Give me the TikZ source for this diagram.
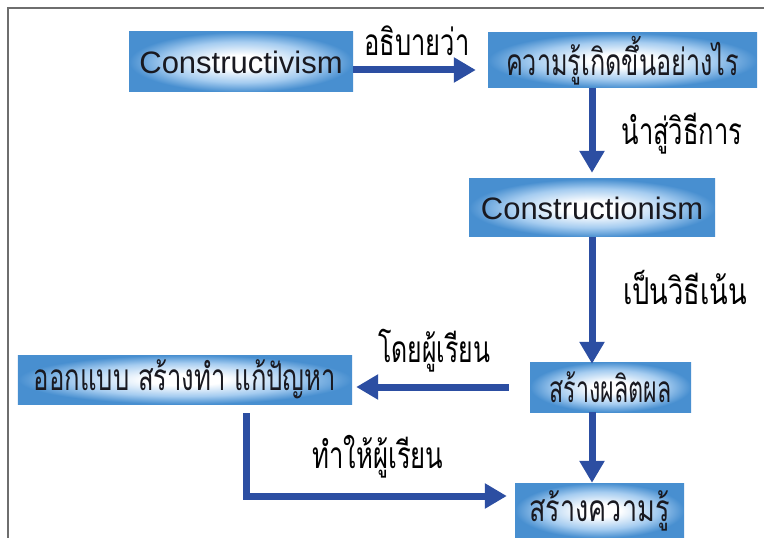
\documentclass[tikz,border=0pt]{standalone}
\usepackage{fontspec}
\usepackage{graphicx}
\setmainfont{Liberation Sans}
\newfontfamily\thaifont[Script=Thai]{Loma}
\usetikzlibrary{arrows.meta}
\definecolor{boxblue}{RGB}{72,143,208}
\definecolor{boxmid}{RGB}{165,204,240}
\definecolor{arrowblue}{RGB}{44,78,162}
\definecolor{inkdark}{RGB}{25,25,32}
\definecolor{framegray}{RGB}{110,110,110}
\pgfdeclareradialshading{boxglow}{\pgfpoint{0bp}{0bp}}{color(0bp)=(white); color(6bp)=(white); color(17bp)=(boxmid); color(25bp)=(boxblue); color(50bp)=(boxblue)}
\newcommand\fitw[2]{\resizebox{#1}{\height}{#2}}
\begin{document}
\begin{tikzpicture}[x=1bp,y=-1bp,
  box/.style={rectangle, shading=boxglow, inner sep=0pt, text=inkdark},
  engbox/.style={box, font=\fontsize{31bp}{36bp}\selectfont},
  thbox/.style={box, font=\thaifont\fontsize{37bp}{42bp}\selectfont},
  lbl/.style={text=black, inner sep=0pt, font=\thaifont\fontsize{37bp}{42bp}\selectfont},
  arr/.style={draw=arrowblue, line width=7bp, -{Triangle[length=22bp,width=24bp]}}]
\useasboundingbox (0,0) rectangle (764,538);
\fill[white] (0,0) rectangle (764,538);
% frame
\draw[framegray, line width=2bp] (8,538) -- (8,8) -- (764,8);
% boxes
\node[engbox, minimum width=224bp, minimum height=60bp] (b1) at (241,62) {Constructivism};
\node[thbox, minimum width=269bp, minimum height=55bp] (b2) at (622.5,60.5) {\fitw{233bp}{ความรู้เกิดขึ้นอย่างไร}};
\node[engbox, minimum width=246bp, minimum height=58bp] (b3) at (592,208) {Constructionism};
\node[thbox, minimum width=161bp, minimum height=50bp] (b4) at (610.5,387) {\fitw{122bp}{สร้างผลิตผล}};
\node[thbox, minimum width=169bp, minimum height=55bp] (b5) at (599.5,510.5) {\fitw{140bp}{สร้างความรู้}};
\node[thbox, minimum width=334bp, minimum height=49bp] (b6) at (185,379.5) {\fitw{302bp}{ออกแบบ สร้างทำ แก้ปัญหา}};
% labels
\node[lbl] (l1) at (417,41) {\fitw{105bp}{อธิบายว่า}};
\node[lbl] (l2) at (682,134) {\fitw{121bp}{นำสู่วิธีการ}};
\node[lbl] (l3) at (685,287) {\fitw{124bp}{เป็นวิธีเน้น}};
\node[lbl] (l4) at (434,351) {\fitw{112bp}{โดยผู้เรียน}};
\node[lbl] (l5) at (378,457) {\fitw{131bp}{ทำให้ผู้เรียน}};
% connectors
\coordinate (elbow) at (246,496);
\draw[arr, shorten >=12bp] ([yshift=-8bp]b1.east) -- ([yshift=-8bp]b1.east -| b2.west);
\draw[arr, shorten >=6bp] (b2.south -| b3.north) -- (b3.north);
\draw[arr, shorten >=-2bp] (b3.south) -- (b3.south |- b4.north);
\draw[arr] (b3.south |- b4.south) -- (b3.south |- b5.north);
\draw[arr, shorten <=21bp, shorten >=4bp] (b4.west) -- (b4.west -| b6.east);
\draw[arr, shorten <=9bp, shorten >=8bp] (b6.south -| elbow) |- (b5.west |- elbow);
\end{tikzpicture}
\end{document}
